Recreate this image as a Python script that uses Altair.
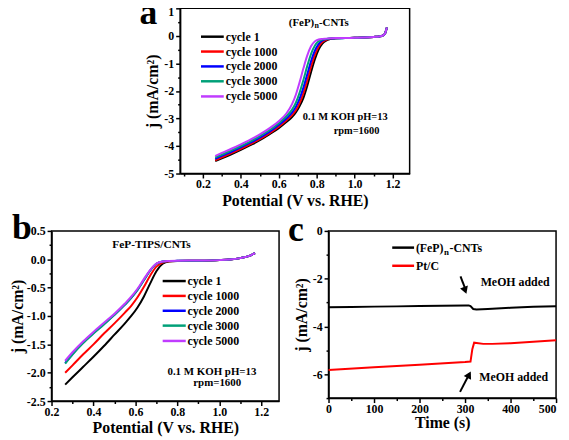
import altair as alt
import pandas as pd

FONT = "Liberation Serif"
COLORS = ["#000000", "#FF0000", "#0000FF", "#00A078", "#C03CFF"]
SERIES = ["cycle 1", "cycle 1000", "cycle 2000", "cycle 3000", "cycle 5000"]

# ---------------- Panel a : (FeP)n-CNTs ----------------
V_a = [0.265, 0.30, 0.35, 0.40, 0.45, 0.50, 0.55, 0.60, 0.64, 0.67, 0.69, 0.71, 0.73, 0.75,
       0.77, 0.79, 0.81, 0.83, 0.85, 0.87, 0.90, 0.95, 1.00, 1.05, 1.10, 1.13, 1.15, 1.16, 1.17]
ja_1 = [-4.55, -4.45, -4.30, -4.14, -3.97, -3.79, -3.58, -3.35, -3.13, -2.95, -2.78, -2.55, -2.25, -1.82,
        -1.32, -0.86, -0.50, -0.28, -0.17, -0.12, -0.09, -0.08, -0.07, -0.06, -0.04, -0.02, 0.02, 0.08, 0.30]
ja_1000 = [-4.52, -4.41, -4.26, -4.10, -3.93, -3.75, -3.54, -3.30, -3.07, -2.88, -2.70, -2.44, -2.08, -1.62,
           -1.12, -0.70, -0.40, -0.22, -0.14, -0.11, -0.09, -0.08, -0.07, -0.06, -0.04, -0.02, 0.02, 0.08, 0.30]
ja_2000 = [-4.47, -4.36, -4.21, -4.05, -3.88, -3.70, -3.49, -3.24, -3.00, -2.79, -2.58, -2.28, -1.88, -1.40,
           -0.92, -0.54, -0.30, -0.17, -0.12, -0.10, -0.09, -0.08, -0.07, -0.06, -0.04, -0.02, 0.02, 0.08, 0.30]
ja_3000 = [-4.42, -4.31, -4.16, -4.00, -3.83, -3.64, -3.43, -3.17, -2.92, -2.68, -2.43, -2.06, -1.60, -1.10,
           -0.66, -0.36, -0.20, -0.13, -0.11, -0.09, -0.09, -0.08, -0.07, -0.06, -0.04, -0.02, 0.02, 0.08, 0.30]
ja_5000 = [-4.36, -4.25, -4.10, -3.94, -3.77, -3.58, -3.36, -3.10, -2.82, -2.48, -2.14, -1.68, -1.18, -0.72,
           -0.38, -0.20, -0.13, -0.11, -0.10, -0.09, -0.08, -0.08, -0.07, -0.06, -0.04, -0.02, 0.02, 0.08, 0.30]
ja_all = [ja_1, ja_1000, ja_2000, ja_3000, ja_5000]

# ---------------- Panel b : FeP-TIPS/CNTs ----------------
V_b = [0.265, 0.30, 0.35, 0.40, 0.45, 0.50, 0.55, 0.58, 0.61, 0.64, 0.67, 0.70, 0.73, 0.76, 0.80,
       0.90, 1.00, 1.05, 1.10, 1.15, 1.17]
jb_1 = [-2.21, -2.08, -1.90, -1.72, -1.53, -1.33, -1.13, -1.00, -0.85, -0.66, -0.43, -0.21, -0.08, -0.04, -0.03,
        -0.025, -0.015, -0.005, 0.02, 0.07, 0.11]
jb_1000 = [-2.00, -1.87, -1.68, -1.50, -1.31, -1.13, -0.94, -0.82, -0.67, -0.49, -0.29, -0.13, -0.06, -0.035, -0.03,
           -0.025, -0.015, -0.005, 0.02, 0.07, 0.11]
jb_2000 = [-1.83, -1.67, -1.47, -1.30, -1.14, -0.98, -0.80, -0.68, -0.54, -0.37, -0.20, -0.08, -0.04, -0.03, -0.028,
           -0.025, -0.015, -0.005, 0.02, 0.07, 0.11]
jb_3000 = [-1.84, -1.68, -1.48, -1.31, -1.15, -0.98, -0.80, -0.68, -0.54, -0.37, -0.20, -0.08, -0.04, -0.03, -0.028,
           -0.025, -0.015, -0.005, 0.02, 0.07, 0.11]
jb_5000 = [-1.79, -1.64, -1.45, -1.28, -1.12, -0.96, -0.78, -0.66, -0.52, -0.35, -0.19, -0.075, -0.038, -0.03, -0.025,
           -0.022, -0.015, -0.005, 0.02, 0.07, 0.11]
jb_all = [jb_1, jb_1000, jb_2000, jb_3000, jb_5000]

# ---------------- Panel c : chronoamperometry ----------------
t_fep = [0, 50, 100, 150, 200, 250, 300, 308, 312, 318, 325, 350, 400, 450, 500]
j_fep = [-3.20, -3.19, -3.17, -3.16, -3.14, -3.13, -3.12, -3.12, -3.15, -3.27, -3.29, -3.27, -3.22, -3.18, -3.15]
t_pt = [0, 100, 200, 300, 312, 316, 320, 340, 360, 400, 450, 500]
j_pt = [-5.82, -5.71, -5.60, -5.49, -5.47, -4.95, -4.68, -4.73, -4.73, -4.70, -4.64, -4.58]

# tick values
xa_ticks = [0.1, 0.2, 0.3, 0.4, 0.5, 0.6, 0.7, 0.8, 0.9, 1.0, 1.1, 1.2]
ya_ticks = [-5, -4.5, -4, -3.5, -3, -2.5, -2, -1.5, -1, -0.5, 0, 0.5, 1]
xb_ticks = [0.2, 0.3, 0.4, 0.5, 0.6, 0.7, 0.8, 0.9, 1.0, 1.1, 1.2]
yb_ticks = [-2.5, -2.25, -2.0, -1.75, -1.5, -1.25, -1.0, -0.75, -0.5, -0.25, 0.0, 0.25, 0.5]
xc_ticks = [0, 50, 100, 150, 200, 250, 300, 350, 400, 450, 500]
yc_ticks = [-7, -6, -5, -4, -3, -2, -1, 0]

dummy = pd.DataFrame({"k": [0]})


def minor(mult):
    return f"abs(datum.value*{mult} - round(datum.value*{mult})) > 0.001"


def axis(values, mult, fmt, title, **kw):
    test = minor(mult)
    return alt.Axis(
        values=values,
        labelExpr=f"{test} ? '' : replace(format(datum.value, '{fmt}'), '\u2212', '-')",
        tickSize={"condition": {"test": test, "value": 2.5}, "value": 4.5},
        labelOverlap=False,
        title=title,
        **kw,
    )


class Panel:
    def __init__(self, xdom, ydom, xaxis, yaxis):
        self.sx = alt.Scale(domain=xdom, nice=False, zero=False)
        self.sy = alt.Scale(domain=ydom, nice=False, zero=False)
        self.ax = xaxis
        self.ay = yaxis
        self.layers = []

    def X(self):
        return alt.X("x:Q", scale=self.sx, axis=self.ax)

    def Y(self):
        return alt.Y("y:Q", scale=self.sy, axis=self.ay)

    def DX(self, v):
        return alt.XDatum(v, scale=self.sx, axis=self.ax)

    def DY(self, v):
        return alt.YDatum(v, scale=self.sy, axis=self.ay)

    def curve(self, xs, ys, color, sw=2, interp="monotone"):
        df = pd.DataFrame({"x": xs, "y": ys})
        self.layers.append(alt.Chart(df).mark_line(color=color, strokeWidth=sw, interpolate=interp)
                           .encode(x=self.X(), y=self.Y()))

    def label(self, text, x, y, size, align="left", dx=0, dy=0):
        self.layers.append(alt.Chart(dummy).mark_text(text=text, fontSize=size, align=align, baseline="middle",
                                                      dx=dx, dy=dy).encode(x=self.DX(x), y=self.DY(y)))

    def legline(self, x1, x2, y, color, sw=2.5):
        self.layers.append(alt.Chart(dummy).mark_rule(color=color, strokeWidth=sw).encode(
            x=self.DX(x1), x2=alt.X2Datum(x2), y=self.DY(y)))

    def arrow(self, x1, y1, x2, y2, hx, hy, shape, ang):
        self.layers.append(alt.Chart(dummy).mark_rule(color="black", strokeWidth=2).encode(
            x=self.DX(x1), y=self.DY(y1), x2=alt.X2Datum(x2), y2=alt.Y2Datum(y2)))
        self.layers.append(alt.Chart(dummy).mark_point(shape=shape, filled=True, color="black", size=70,
                                                       angle=ang, opacity=1).encode(x=self.DX(hx), y=self.DY(hy)))

    def letter(self, text, px, py):
        self.layers.append(alt.Chart(dummy).mark_text(text=text, fontSize=36, align="left",
                                                      baseline="alphabetic").encode(x=alt.value(px), y=alt.value(py)))

    def chart(self, w, h):
        return alt.layer(*self.layers).properties(width=w, height=h)


YT = "j (mA/cm\u00b2)"

# ---- panel a
pa = Panel([0.08, 1.29], [-5, 1],
           axis(xa_ticks, 5, ".1f", "Potential (V vs. RHE)", labelFlush=False, labelPadding=1, titlePadding=3),
           axis(ya_ticks, 1, "d", YT, labelPadding=2, titlePadding=3,
                labelOffset={"condition": {"test": "datum.value == 1", "value": 3}, "value": 0}))
for js, c in zip(ja_all, COLORS):
    pa.curve(V_a, js, c)
leg_ya = [-0.03, -0.57, -1.11, -1.65, -2.2]
for s, c, yy in zip(SERIES, COLORS, leg_ya):
    pa.legline(0.19, 0.31, yy, c)
    pa.label(s, 0.32, yy, 12)
pa.label("(FeP)", 0.653, 0.47, 11)
pa.label("n", 0.653, 0.47, 8, dx=26, dy=3)
pa.label("-CNTs", 0.653, 0.47, 11, dx=30.5)
pa.label("0.1 M KOH pH=13", 0.95, -2.94, 10.5, align="center")
pa.label("rpm=1600", 1.01, -3.46, 10.5, align="center")
pa.letter("a", -41, 16)
panel_a = pa.chart(232, 167)

# ---- panel b
pb = Panel([0.2, 1.285], [-2.5, 0.5],
           axis(xb_ticks, 5, ".1f", "Potential (V vs. RHE)", labelFlush=False, labelPadding=1, titlePadding=2),
           axis(yb_ticks, 2, ".1f", YT, labelPadding=2, titlePadding=1))
for js, c in zip(jb_all, COLORS):
    pb.curve(V_b, js, c)
leg_yb = [-0.384, -0.646, -0.908, -1.17, -1.44]
for s, c, yy in zip(SERIES, COLORS, leg_yb):
    pb.legline(0.73, 0.84, yy, c)
    pb.label(s, 0.848, yy, 12)
pb.label("FeP-TIPS/CNTs", 0.677, 0.25, 11.5, align="center")
pb.label("0.1 M KOH pH=13", 0.965, -1.99, 11, align="center")
pb.label("rpm=1600", 0.99, -2.19, 11, align="center")
pb.letter("b", -40, 8)
panel_b = pb.chart(230, 172)

# ---- panel c
pc = Panel([0, 500], [-7, 0],
           axis(xc_ticks, 0.01, "d", "Time (s)", labelFlush=False, labelPadding=1, titlePadding=0,
                labelAlign={"condition": {"test": "datum.value == 500", "value": "right"}, "value": "center"}),
           axis(yc_ticks, 0.5, "d", YT, labelPadding=2, titlePadding=3))
pc.curve(t_fep, j_fep, "#000000", interp="linear")
pc.curve(t_pt, j_pt, "#FF0000", interp="linear")
pc.legline(140, 188, -0.70, "#000000")
pc.label("(FeP)", 192, -0.70, 12)
pc.label("n", 192, -0.70, 9, dx=28.5, dy=4)
pc.label("-CNTs", 192, -0.70, 12, dx=34)
pc.legline(140, 188, -1.46, "#FF0000")
pc.label("Pt/C", 192, -1.46, 12)
pc.label("MeOH added", 410, -2.15, 12, align="center")
pc.label("MeOH added", 407, -6.12, 12, align="center")
pc.arrow(290, -1.9, 301, -2.45, 300.3, -2.49, "triangle-down", 340)
pc.arrow(289, -6.74, 310, -5.97, 308.9, -6.02, "triangle-up", 28)
pc.letter("c", -41, 10)
panel_c = pc.chart(230, 169)


def spacer(w):
    return alt.Chart(dummy).mark_point(opacity=0, size=1).encode(
        x=alt.value(5), y=alt.value(5)).properties(width=w, height=20, view=alt.ViewBackground(strokeOpacity=0))


top = alt.hconcat(spacer(130), panel_a, spacing=0, bounds="flush")
bottom = alt.hconcat(panel_b, panel_c, spacing=50, bounds="flush")

chart = alt.vconcat(top, bottom, spacing=-1).properties(
    padding={"left": 0, "top": -16, "right": 0, "bottom": -2},
    background="white",
).configure_view(
    stroke="black", strokeWidth=1.5
).configure_axis(
    labelFont=FONT, labelFontSize=12, labelFontWeight="bold", labelColor="black",
    titleFont=FONT, titleFontSize=16, titleFontWeight="bold", titleColor="black",
    domainColor="black", domainWidth=1.5, tickColor="black", tickWidth=1.5, grid=False,
    labelOverlap=False,
).configure_text(
    font=FONT, fontWeight="bold", color="black"
)

chart.save("out.html", embed_options={"renderer": "svg", "actions": False})
